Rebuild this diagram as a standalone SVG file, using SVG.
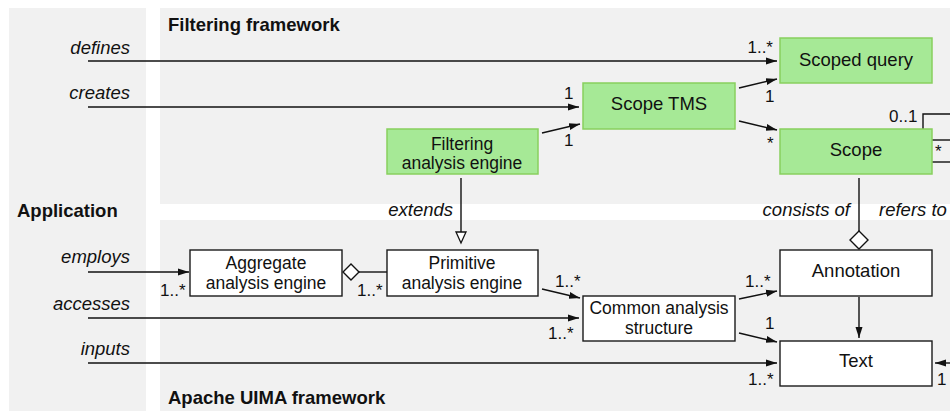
<svg xmlns="http://www.w3.org/2000/svg" width="950" height="411" viewBox="0 0 950 411">
<defs>
<marker id="arr" markerUnits="userSpaceOnUse" markerWidth="12" markerHeight="10" refX="11" refY="4" orient="auto" viewBox="0 0 12 8">
<path d="M0,0.5 L11,4 L0,7.5 z" fill="#111"/>
</marker>
</defs>
<style>
.panel{fill:#f1f1f1}
.g{fill:#a6e996;stroke:#88cf5e;stroke-width:1.5}
.w{fill:#fff;stroke:#1a1a1a;stroke-width:1.4}
.t{font-family:"Liberation Sans",Arial,sans-serif;font-size:18.5px;fill:#111}
.t2{font-family:"Liberation Sans",Arial,sans-serif;font-size:17.5px;fill:#111;text-anchor:middle}
.c{text-anchor:middle}
.i{font-style:italic;text-anchor:end}
.b{font-weight:bold}
.m{font-family:"Liberation Sans",Arial,sans-serif;font-size:17px;fill:#111}
.e{text-anchor:end}
.ln{stroke:#111;stroke-width:1.4;fill:none}
.a{marker-end:url(#arr)}
</style>
<rect width="950" height="411" fill="#fff"/>
<g id="panels">
<rect class="panel" x="9" y="8" width="137" height="403"/>
<rect class="panel" x="160" y="8" width="790" height="196"/>
<rect class="panel" x="160" y="220" width="790" height="191"/>
<text class="t b" x="168" y="31">Filtering framework</text>
<text class="t b" x="17" y="217">Application</text>
<text class="t b" x="168" y="404">Apache UIMA framework</text>
</g>
<g id="connectors">
<line class="ln a" x1="88" y1="61" x2="777" y2="61"/>
<line class="ln a" x1="88" y1="107" x2="579" y2="107"/>
<line class="ln a" x1="542" y1="133" x2="580" y2="124"/>
<line class="ln a" x1="739" y1="88" x2="777" y2="79"/>
<line class="ln a" x1="739" y1="121" x2="777" y2="130"/>
<polyline class="ln" points="923,129 923,114 950,114"/>
<line class="ln" x1="932" y1="140" x2="950" y2="140"/>
<line class="ln" x1="932" y1="162" x2="950" y2="162"/>
<line class="ln" x1="461" y1="178" x2="461" y2="232"/>
<polygon points="456,232 466,232 461,243" fill="#fff" stroke="#111" stroke-width="1.3"/>
<line class="ln" x1="859" y1="178" x2="859" y2="231"/>
<polygon points="859,231 868,240 859,249 850,240" fill="#fff" stroke="#111" stroke-width="1.4"/>
<line class="ln a" x1="88" y1="272" x2="189" y2="272"/>
<polygon points="343,272 351,264 359,272 351,280" fill="#fff" stroke="#111" stroke-width="1.4"/>
<line class="ln" x1="359" y1="272" x2="387" y2="272"/>
<line class="ln a" x1="542" y1="289" x2="580" y2="298"/>
<line class="ln a" x1="88" y1="318" x2="579" y2="318"/>
<line class="ln a" x1="739" y1="299" x2="777" y2="291"/>
<line class="ln a" x1="739" y1="333" x2="777" y2="342"/>
<line class="ln a" x1="859" y1="297" x2="859" y2="338"/>
<line class="ln a" x1="88" y1="363" x2="777" y2="363"/>
<line class="ln a" x1="950" y1="363" x2="935" y2="363"/>
</g>
<g id="labels">
<text class="t i" x="130" y="54">defines</text>
<text class="t i" x="130" y="99">creates</text>
<text class="t i" x="130" y="263">employs</text>
<text class="t i" x="130" y="310">accesses</text>
<text class="t i" x="130" y="355">inputs</text>
<text class="t i" x="453" y="216">extends</text>
<text class="t i" x="850" y="216">consists of</text>
<text class="t" style="font-style:italic" x="879" y="216">refers to</text>
<text class="m e" x="773" y="53">1..*</text>
<text class="m" x="564" y="99">1</text>
<text class="m" x="564" y="146">1</text>
<text class="m" x="765" y="102">1</text>
<text class="m" x="767" y="149">*</text>
<text class="m" x="889" y="122">0..1</text>
<text class="m" x="935" y="157">*</text>
<text class="m" x="160" y="296">1..*</text>
<text class="m" x="357" y="296">1..*</text>
<text class="m" x="555" y="287">1..*</text>
<text class="m" x="548" y="339">1..*</text>
<text class="m" x="745" y="287">1..*</text>
<text class="m" x="765" y="329">1</text>
<text class="m" x="748" y="385">1..*</text>
<text class="m" x="937" y="385">1</text>
</g>
<g id="scoped-query">
<rect class="g" x="780" y="38" width="152" height="45"/>
<text class="t c" x="856" y="66">Scoped query</text>
</g>
<g id="scope-tms">
<rect class="g" x="583" y="83" width="152" height="46"/>
<text class="t c" x="659" y="110">Scope TMS</text>
</g>
<g id="filtering-analysis-engine">
<rect class="g" x="387" y="129" width="151" height="45"/>
<text class="t2" x="462" y="149.5">Filtering</text>
<text class="t2" x="462" y="169">analysis engine</text>
</g>
<g id="scope">
<rect class="g" x="780" y="129" width="152" height="45"/>
<text class="t c" x="856" y="156">Scope</text>
</g>
<g id="aggregate-analysis-engine">
<rect class="w" x="190" y="250" width="152" height="46"/>
<text class="t2" x="266" y="269">Aggregate</text>
<text class="t2" x="266" y="288.5">analysis engine</text>
</g>
<g id="primitive-analysis-engine">
<rect class="w" x="387" y="250" width="151" height="46"/>
<text class="t2" x="462" y="269">Primitive</text>
<text class="t2" x="462" y="288.5">analysis engine</text>
</g>
<g id="common-analysis-structure">
<rect class="w" x="583" y="296" width="152" height="45"/>
<text class="t2" x="659" y="314">Common analysis</text>
<text class="t2" x="659" y="333.5">structure</text>
</g>
<g id="annotation">
<rect class="w" x="780" y="250" width="152" height="46"/>
<text class="t c" x="856" y="277">Annotation</text>
</g>
<g id="text">
<rect class="w" x="780" y="341" width="152" height="45"/>
<text class="t c" x="856" y="367">Text</text>
</g>
</svg>
